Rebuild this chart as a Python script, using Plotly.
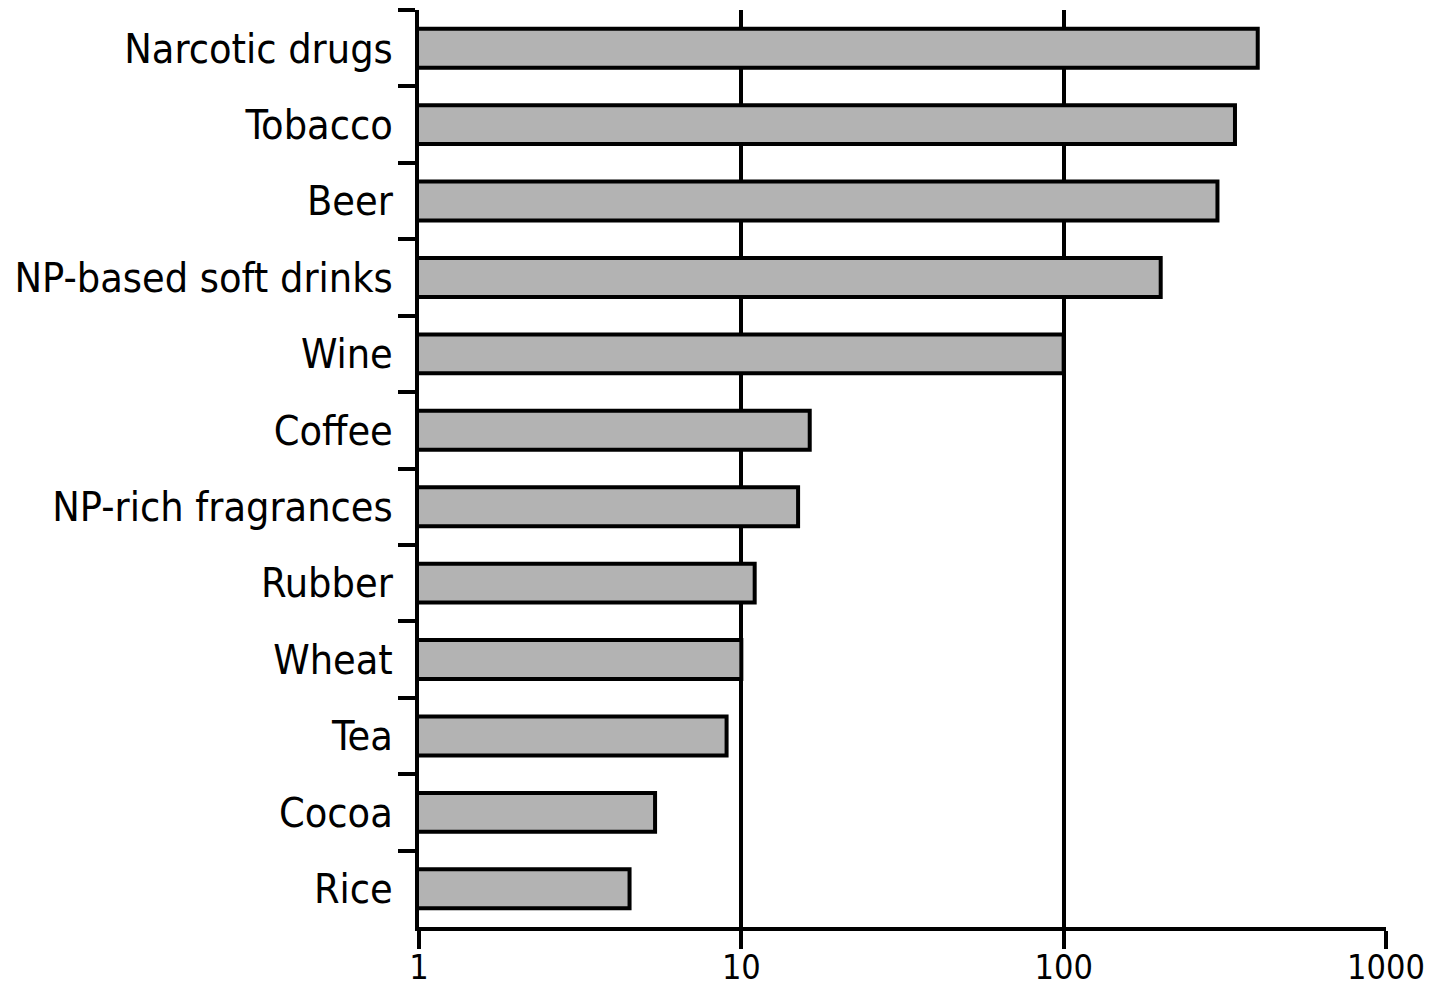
import plotly.graph_objects as go

# Products, listed top to bottom
products = [
    "Narcotic drugs", "Tobacco", "Beer", "NP-based soft drinks", "Wine",
    "Coffee", "NP-rich fragrances", "Rubber", "Wheat", "Tea", "Cocoa", "Rice",
]
values = [400, 340, 300, 200, 100, 16.3, 15, 11, 10, 9, 5.4, 4.5]

x_tickvals = [1, 10, 100, 1000]
x_ticktext = ["1", "10", "100", "1000"]

FONT = "DejaVu Sans Condensed, DejaVu Sans, sans-serif"

fig = go.Figure(
    go.Bar(
        x=values,
        y=products,
        orientation="h",
        width=0.51,
        marker=dict(color="#b3b3b3", line=dict(color="black", width=4)),
        hoverinfo="x+y",
    )
)

fig.update_layout(
    width=1443,
    height=989,
    margin=dict(l=419, r=57, t=10, b=62),
    paper_bgcolor="white",
    plot_bgcolor="white",
    showlegend=False,
    font=dict(family=FONT, size=38, color="black"),
)

fig.update_xaxes(
    type="log",
    range=[0, 3],
    tickvals=x_tickvals,
    ticktext=x_ticktext,
    showgrid=True,
    gridcolor="black",
    gridwidth=4,
    showline=True,
    linecolor="black",
    linewidth=4,
    ticks="outside",
    ticklen=18,
    tickwidth=4,
    tickcolor="black",
    zeroline=False,
    automargin=False,
    ticklabelstandoff=-11,
    tickfont=dict(family=FONT, size=34, color="black"),
)

fig.update_yaxes(
    type="category",
    categoryorder="array",
    categoryarray=products,
    autorange="reversed",
    showgrid=False,
    showline=True,
    linecolor="black",
    linewidth=4,
    ticks="outside",
    tickson="boundaries",
    ticklen=17,
    tickwidth=4,
    tickcolor="black",
    zeroline=False,
    automargin=False,
    ticklabelstandoff=14,
    tickfont=dict(family=FONT, size=41, color="black"),
)

fig.write_html("out.html")
